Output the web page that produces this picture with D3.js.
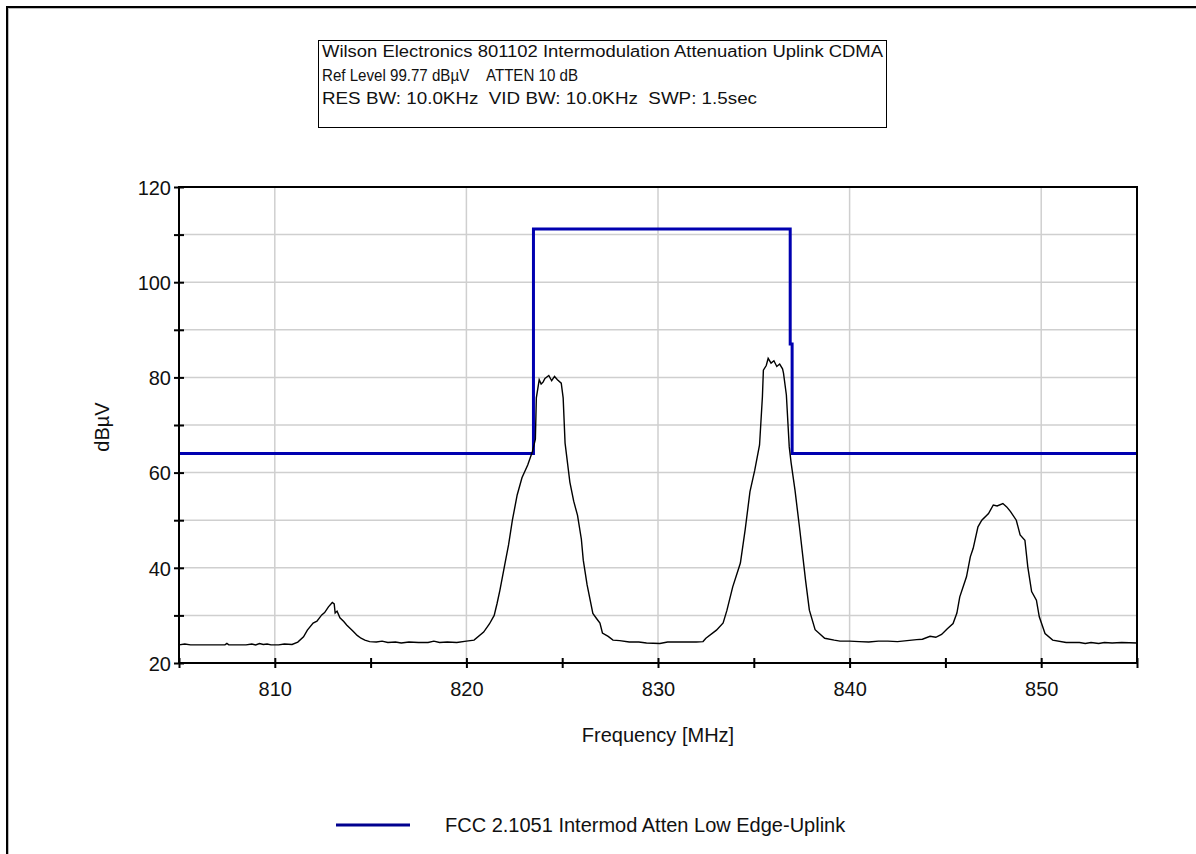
<!DOCTYPE html>
<html>
<head>
    <title>Intermodulation Attenuation Uplink CDMA</title>
    <script src="https://d3js.org/d3.v7.min.js"></script>
    <style>
        body { margin: 0; background: #fff; }
        svg { display: block; font-family: "Liberation Sans", Arial, sans-serif; }
        .tick text { font-size: 20px; fill: #111; }
    </style>
</head>
<body>
    <svg id="chart" width="1196" height="854"></svg>
    <script>
        // header lines of the box on top
        const headerLines = [
            "Wilson Electronics 801102 Intermodulation Attenuation Uplink CDMA",
            "Ref Level 99.77 dBµV\u00a0\u00a0\u00a0\u00a0ATTEN 10 dB",
            "RES BW: 10.0KHz\u00a0\u00a0VID BW: 10.0KHz\u00a0\u00a0SWP: 1.5sec"
        ];
        const headerWidths = [561, 256, 435];

        const traceFreq = [
            805.0, 805.3, 805.6, 806.5, 807.4, 807.5, 807.6, 808.5, 808.8, 809.0,
            809.2, 809.4, 809.6, 809.8, 810.2, 810.5, 810.9, 811.2, 811.5, 811.7,
            812.0, 812.2, 812.45, 812.6, 812.8, 813.0, 813.1, 813.15, 813.25, 813.4,
            813.6, 813.75, 814.1, 814.3, 814.5, 814.7, 814.95, 815.3, 815.6, 815.9,
            816.3, 816.6, 817.0, 817.5, 818.0, 818.3, 818.6, 819.0, 819.5, 820.0,
            820.4, 820.9, 821.2, 821.45, 821.6, 821.75, 822.0, 822.2, 822.4, 822.65,
            822.9, 823.2, 823.45, 823.6, 823.65, 823.8, 823.9, 824.0, 824.1, 824.3,
            824.45, 824.6, 824.75, 824.95, 825.05, 825.15, 825.4, 825.6, 825.8, 826.0,
            826.1, 826.3, 826.6, 826.8, 826.97, 827.1, 827.4, 827.65, 828.0, 828.5,
            829.0, 829.4, 830.1, 830.5, 831.0, 831.5, 832.0, 832.35, 832.5, 833.05,
            833.4, 833.6, 833.9, 834.3, 834.55, 834.8, 835.05, 835.3, 835.45, 835.5,
            835.65, 835.75, 835.9, 836.05, 836.2, 836.35, 836.5, 836.55, 836.7, 836.85,
            836.95, 837.15, 837.4, 837.7, 837.9, 838.2, 838.7, 839.2, 839.5, 840.0,
            840.5, 841.0, 841.5, 842.0, 842.5, 843.0, 843.5, 843.8, 844.2, 844.5,
            844.8, 845.1, 845.4, 845.6, 845.75, 846.1, 846.3, 846.45, 846.7, 846.9,
            847.25, 847.5, 847.7, 848.0, 848.2, 848.4, 848.7, 848.9, 849.15, 849.3,
            849.5, 849.75, 849.9, 850.2, 850.6, 851.3, 852.0, 852.3, 852.6, 853.0,
            853.3, 853.7, 854.2, 855.0
        ];
        const traceLevel = [
            23.8, 24.0, 23.8, 23.8, 23.8, 24.1, 23.8, 23.8, 24.0, 23.8,
            24.1, 23.9, 24.0, 23.8, 23.8, 24.0, 23.9, 24.4, 25.5, 26.9,
            28.4, 28.8, 30.1, 30.6, 31.8, 32.7, 32.4, 30.5, 30.9, 29.5,
            28.7, 28.0, 26.6, 25.8, 25.2, 24.8, 24.5, 24.4, 24.6, 24.3,
            24.4, 24.2, 24.4, 24.3, 24.3, 24.6, 24.3, 24.4, 24.3, 24.6,
            24.8, 26.5, 28.2, 30.0, 32.5, 35.3, 40.6, 44.8, 50.0, 55.3,
            58.9, 61.6, 64.5, 67.0, 75.7, 79.5, 78.6, 79.0, 79.8, 80.4,
            79.3, 80.2, 79.5, 78.8, 75.7, 66.2, 58.0, 54.0, 51.0, 46.0,
            41.6, 36.4, 30.4, 29.3, 28.4, 26.3, 25.6, 24.8, 24.7, 24.4,
            24.4, 24.2, 24.1, 24.4, 24.4, 24.4, 24.4, 24.5, 25.2, 26.9,
            28.4, 31.1, 36.0, 41.0, 48.0, 56.0, 60.5, 65.8, 76.0, 81.5,
            82.5, 84.0, 83.0, 83.5, 82.3, 82.8, 81.8, 80.9, 76.3, 65.4,
            62.0, 56.3, 48.0, 37.4, 31.1, 27.0, 25.2, 24.8, 24.6, 24.6,
            24.5, 24.4, 24.6, 24.6, 24.5, 24.7, 24.9, 25.0, 25.6, 25.4,
            26.0, 27.2, 28.3, 30.5, 33.9, 38.1, 42.3, 44.1, 48.6, 50.0,
            51.4, 53.2, 53.0, 53.5, 52.8, 51.8, 50.0, 46.9, 45.8, 40.2,
            35.0, 33.2, 29.7, 26.2, 24.8, 24.3, 24.3, 24.1, 24.3, 24.1,
            24.3, 24.2, 24.3, 24.2
        ];

        // FCC limit mask
        const limitName = "FCC 2.1051 Intermod Atten Low Edge-Uplink";
        const limitFreq = [805, 823.5, 823.5, 836.9, 836.9, 837.0, 837.0, 855];
        const limitLevel = [64, 64, 111.2, 111.2, 87, 87, 64, 64];

        const xDomain = [805, 855];
        const yDomain = [20, 120];
        const xTicks = [805, 810, 815, 820, 825, 830, 835, 840, 845, 850, 855];
        const xGrid = [810, 820, 830, 840, 850];
        const yTicks = [20, 30, 40, 50, 60, 70, 80, 90, 100, 110, 120];
        const xTitle = "Frequency [MHz]";
        const yTitle = "dBµV";

        const svg = d3.select("#chart");
        const plot = { left: 179, right: 1137, top: 187, bottom: 663 };

        const x = d3.scaleLinear().domain(xDomain).range([plot.left, plot.right]);
        const y = d3.scaleLinear().domain(yDomain).range([plot.bottom, plot.top]);

        // outer frame (runs off the right and bottom edge)
        svg.append("rect")
            .attr("x", 7).attr("y", 7)
            .attr("width", 1220).attr("height", 880)
            .attr("fill", "none").attr("stroke", "#000").attr("stroke-width", 2);
        svg.append("rect")
            .attr("x", 8.5).attr("y", 8.5)
            .attr("width", 1220).attr("height", 880)
            .attr("fill", "none").attr("stroke", "#bbb").attr("stroke-width", 1);

        // header box
        svg.append("rect")
            .attr("x", 318.5).attr("y", 40.5)
            .attr("width", 568).attr("height", 87)
            .attr("fill", "#fff").attr("stroke", "#000").attr("stroke-width", 1);
        svg.selectAll(".header")
            .data(headerLines)
            .join("text")
            .attr("class", "header")
            .attr("x", 322)
            .attr("y", (d, i) => 57 + i * 23.5)
            .attr("font-size", 16)
            .attr("fill", "#111")
            .attr("textLength", (d, i) => headerWidths[i])
            .attr("lengthAdjust", "spacingAndGlyphs")
            .text(d => d);

        // grid
        svg.append("g").selectAll("line")
            .data(yTicks)
            .join("line")
            .attr("x1", plot.left).attr("x2", plot.right)
            .attr("y1", d => y(d)).attr("y2", d => y(d))
            .attr("stroke", "#cfcfcf").attr("stroke-width", 1.5);
        svg.append("g").selectAll("line")
            .data(xGrid)
            .join("line")
            .attr("x1", d => x(d)).attr("x2", d => x(d))
            .attr("y1", plot.top).attr("y2", plot.bottom)
            .attr("stroke", "#cfcfcf").attr("stroke-width", 1.5);

        // limit mask
        const limitData = limitFreq.map((f, i) => [f, limitLevel[i]]);
        svg.append("path")
            .datum(limitData)
            .attr("fill", "none")
            .attr("stroke", "#0000b0")
            .attr("stroke-width", 3)
            .attr("d", d3.line().x(d => x(d[0])).y(d => y(d[1])));

        // measured trace
        const traceData = traceFreq.map((f, i) => [f, traceLevel[i]]);
        svg.append("path")
            .datum(traceData)
            .attr("fill", "none")
            .attr("stroke", "#000")
            .attr("stroke-width", 1.4)
            .attr("d", d3.line().x(d => x(d[0])).y(d => y(d[1])));

        // plot frame
        svg.append("rect")
            .attr("x", plot.left).attr("y", plot.top)
            .attr("width", plot.right - plot.left).attr("height", plot.bottom - plot.top)
            .attr("fill", "none").attr("stroke", "#000").attr("stroke-width", 2);

        // axes: ticks cross the axis line
        const yAxis = d3.axisLeft(y)
            .tickValues(yTicks)
            .tickSize(10)
            .tickPadding(3)
            .tickFormat(d => d % 20 === 0 ? d : "");
        const yg = svg.append("g")
            .attr("transform", `translate(${plot.left + 5},0)`)
            .call(yAxis);
        yg.select(".domain").remove();
        yg.selectAll(".tick line").attr("stroke", "#000").attr("stroke-width", 2);
        yg.selectAll(".tick text").attr("dy", "0.36em");

        const xAxis = d3.axisBottom(x)
            .tickValues(xTicks)
            .tickSize(10)
            .tickPadding(14)
            .tickFormat(d => d % 10 === 0 && d !== 805 && d !== 855 ? d : "");
        const xg = svg.append("g")
            .attr("transform", `translate(0,${plot.bottom - 5})`)
            .call(xAxis);
        xg.select(".domain").remove();
        xg.selectAll(".tick line").attr("stroke", "#000").attr("stroke-width", 2);

        // axis titles
        svg.append("text")
            .attr("x", (plot.left + plot.right) / 2)
            .attr("y", 742)
            .attr("text-anchor", "middle")
            .attr("font-size", 20)
            .attr("fill", "#111")
            .text(xTitle);
        svg.append("text")
            .attr("transform", "translate(109,427) rotate(-90)")
            .attr("text-anchor", "middle")
            .attr("font-size", 20)
            .attr("fill", "#111")
            .text(yTitle);

        // legend
        const legend = svg.append("g").attr("transform", "translate(336,825)");
        legend.append("line")
            .attr("x1", 0).attr("x2", 74)
            .attr("y1", 0).attr("y2", 0)
            .attr("stroke", "#00008f").attr("stroke-width", 3);
        legend.append("text")
            .attr("x", 109)
            .attr("y", 7)
            .attr("font-size", 20)
            .attr("fill", "#111")
            .text(limitName);
    </script>
</body>
</html>
